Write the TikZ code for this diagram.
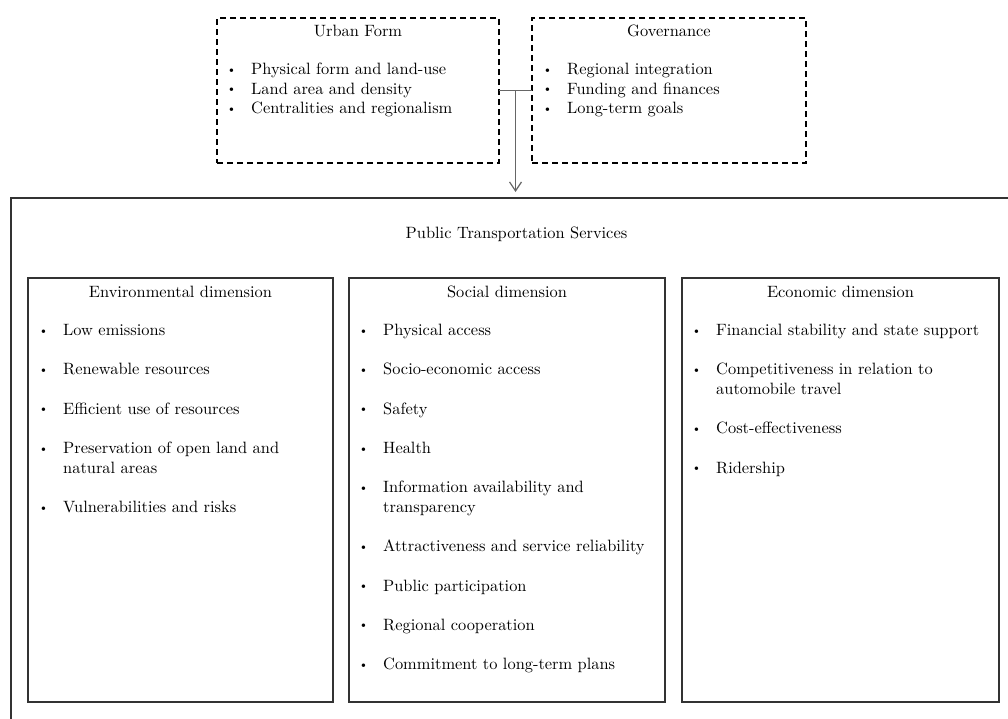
\documentclass[tikz,border=0pt]{standalone}
\usepackage{fontspec}
\usetikzlibrary{arrows.meta}
% 10pt optical size of Latin Modern, used at a large size for its width and weight
\newfontfamily\bookfont{lmroman10}[Extension=.otf, UprightFont=*-regular]
\definecolor{framegray}{HTML}{333333}
\definecolor{linkgray}{HTML}{666666}
\newcommand\itemfont{\bookfont\fontsize{16.4}{19.65}\selectfont}
\newcommand\dotfont{\bookfont\fontsize{12}{12}\selectfont}
% bullet item: name, text x, text y, text
\newcommand\listitem[4]{%
  \node[bulletmark] (#1-dot) at (#2-19.5, #3-1.5) {\textbullet};
  \node[itemtext] (#1) at (#2, #3) {#4};}
% row k of a dimension list
\newcommand\rowy[1]{333.5+19.65*#1}

\begin{document}
\begin{tikzpicture}[x=1pt,y=-1pt,
  dashbox/.style={draw=black, line width=1.3pt, dash pattern=on 6pt off 4pt,
                  inner sep=0pt, outer sep=0pt},
  solidbox/.style={draw=framegray, line width=2pt, inner sep=0pt, outer sep=0pt},
  heading/.style={font=\itemfont, inner sep=0pt, anchor=mid},
  itemtext/.style={font=\itemfont, inner sep=0pt, anchor=mid west},
  bulletmark/.style={font=\dotfont, inner sep=0pt, anchor=mid},
  link/.style={draw=linkgray, line width=1.2pt},
]
\useasboundingbox (0,0) rectangle (1008,718);
\clip (0,0) rectangle (1008,718);

% influencing factors
\node[dashbox, minimum width=282pt, minimum height=145pt] (urban) at (358,90.5) {};
\node[dashbox, minimum width=274pt, minimum height=145pt] (gov) at (669,90.5) {};

\node[heading] (urbantitle) at (358,34) {Urban Form};
\listitem{urban1}{251}{72.5}{Physical form and land-use}
\listitem{urban2}{251}{92}{Land area and density}
\listitem{urban3}{251}{111.5}{Centralities and regionalism}

\node[heading] (govtitle) at (669,34) {Governance};
\listitem{gov1}{567}{72.5}{Regional integration}
\listitem{gov2}{567}{92}{Funding and finances}
\listitem{gov3}{567}{111.5}{Long-term goals}

% public transportation services frame
\node[solidbox, minimum width=1005pt, minimum height=528pt] (outer) at (513.5,462) {};
\node[heading] (outertitle) at (516.5,236) {Public Transportation Services};

% connector into the services frame
\draw[link] (urban.east) -- (gov.west);
\path (urban.east) -- (gov.west) coordinate[pos=0.5] (junction);
\draw[link, -{Straight Barb[length=9pt,width=12pt]}, shorten >=6pt]
  (junction) -- (junction |- outer.north);

% three dimensions
\node[solidbox, minimum width=305pt, minimum height=424pt] (env) at (180.5,490) {};
\node[solidbox, minimum width=316pt, minimum height=424pt] (soc) at (507,490) {};
\node[solidbox, minimum width=317pt, minimum height=424pt] (eco) at (840.5,490) {};

\node[heading] (envtitle) at (180.5,295) {Environmental dimension};
\node[heading] (soctitle) at (507,295) {Social dimension};
\node[heading] (ecotitle) at (840.5,295) {Economic dimension};

\listitem{env1}{63}{\rowy{0}}{Low emissions}
\listitem{env2}{63}{\rowy{2}}{Renewable resources}
\listitem{env3}{63}{\rowy{4}}{Efficient use of resources}
\listitem{env4}{63}{\rowy{6}}{\parbox[t]{260pt}{Preservation of open land and\\natural areas}}
\listitem{env5}{63}{\rowy{9}}{Vulnerabilities and risks}

\listitem{soc1}{383}{\rowy{0}}{Physical access}
\listitem{soc2}{383}{\rowy{2}}{Socio-economic access}
\listitem{soc3}{383}{\rowy{4}}{Safety}
\listitem{soc4}{383}{\rowy{6}}{Health}
\listitem{soc5}{383}{\rowy{8}}{\parbox[t]{270pt}{Information availability and\\transparency}}
\listitem{soc6}{383}{\rowy{11}}{Attractiveness and service reliability}
\listitem{soc7}{383}{\rowy{13}}{Public participation}
\listitem{soc8}{383}{\rowy{15}}{Regional cooperation}
\listitem{soc9}{383}{\rowy{17}}{Commitment to long-term plans}

\listitem{eco1}{716}{\rowy{0}}{Financial stability and state support}
\listitem{eco2}{716}{\rowy{2}}{\parbox[t]{270pt}{Competitiveness in relation to\\automobile travel}}
\listitem{eco3}{716}{\rowy{5}}{Cost-effectiveness}
\listitem{eco4}{716}{\rowy{7}}{Ridership}
\end{tikzpicture}
\end{document}
